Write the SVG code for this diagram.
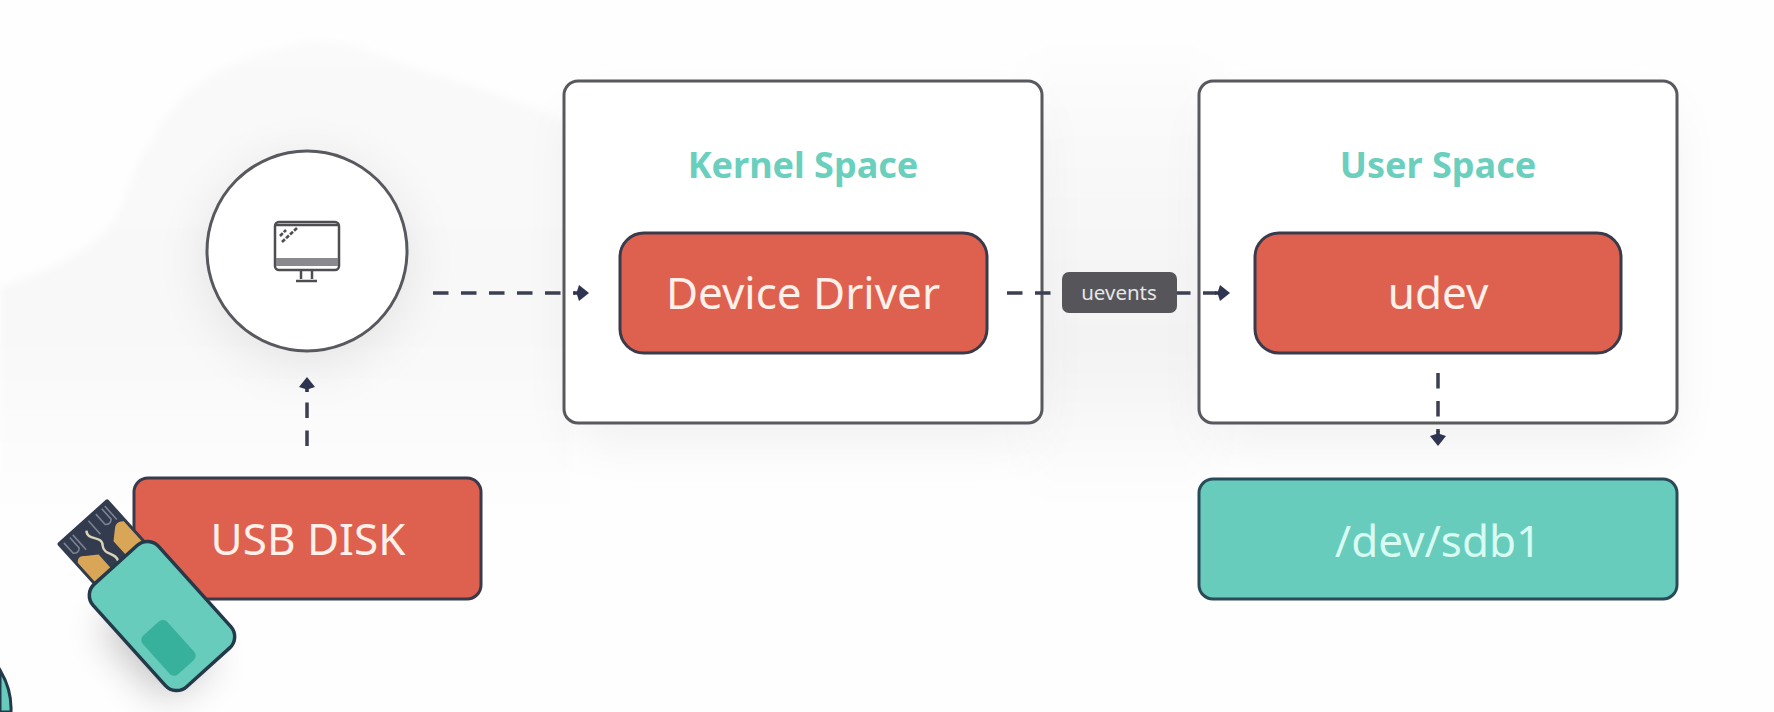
<svg xmlns="http://www.w3.org/2000/svg" width="1774" height="712" viewBox="0 0 1774 712">
<defs>
<style>
.panel{fill:#fff;stroke:#58595f;stroke-width:3}
.red{fill:#de6150;stroke:#3a3a4a;stroke-width:3}
.teal{fill:#67ccbc;stroke:#2a4a58;stroke-width:3}
.lbl{font-family:"Noto Sans","Liberation Sans",sans-serif;text-anchor:middle}
.big{font-size:44px}
.onred{fill:#fff0ea}
.title{font-size:36px;font-weight:700;fill:#6bcfbe}
.dash{fill:none;stroke:#3a3f52;stroke-width:3.5;stroke-dasharray:15.5 12.5}
.mon{fill:none;stroke:#4e4e52;stroke-width:2.5}
</style>
<marker id="head" markerUnits="userSpaceOnUse" markerWidth="20" markerHeight="20" refX="2" refY="10" orient="auto">
<path d="M1 8.2H4L6 2L16 10L6 18L4 11.8H1Z" fill="#2f3450"/>
</marker>
<linearGradient id="fade" gradientUnits="userSpaceOnUse" x1="0" y1="40" x2="0" y2="520">
<stop offset="0" stop-color="#000" stop-opacity=".017"/>
<stop offset=".6" stop-color="#000" stop-opacity=".024"/>
<stop offset="1" stop-color="#000" stop-opacity="0"/>
</linearGradient>
<linearGradient id="fadeX" gradientUnits="userSpaceOnUse" x1="0" y1="0" x2="0" y2="500">
<stop offset="0" stop-color="#000" stop-opacity="0"/>
<stop offset=".7" stop-color="#000" stop-opacity=".045"/>
<stop offset="1" stop-color="#000" stop-opacity="0"/>
</linearGradient>
<filter id="soft" x="-40%" y="-40%" width="180%" height="180%"><feGaussianBlur stdDeviation="28"/></filter>
<filter id="soft2" x="-60%" y="-60%" width="220%" height="220%"><feGaussianBlur stdDeviation="20"/></filter>
<filter id="blobblur" x="-10%" y="-10%" width="120%" height="120%"><feGaussianBlur stdDeviation="4"/></filter>
</defs>
<rect width="1774" height="712" fill="#fefefe"/>
<g id="background">
<path d="M0 287C50 270 95 250 115 220C130 190 135 160 153 140C175 95 215 60 306 42C350 38 385 58 421 70C470 85 520 100 570 125V520H0Z" fill="url(#fade)" filter="url(#blobblur)"/>
<rect x="1030" y="60" width="180" height="440" fill="url(#fadeX)" filter="url(#soft2)"/>
<rect x="575" y="110" width="460" height="330" fill="#000" opacity=".06" filter="url(#soft)"/>
<rect x="1210" y="110" width="460" height="330" fill="#000" opacity=".06" filter="url(#soft)"/>
<circle cx="307" cy="262" r="100" fill="#000" opacity=".09" filter="url(#soft)"/>
<path d="M100 630L165 700L215 660L150 585Z" fill="#000" opacity=".24" filter="url(#soft2)"/>
</g>
<g id="kernel-space">
<rect class="panel" x="564" y="81" width="478" height="342" rx="14"/>
<text class="lbl title" x="803" y="178">Kernel Space</text>
</g>
<g id="device-driver">
<rect class="red" x="620" y="233" width="367" height="120" rx="24"/>
<text class="lbl big onred" x="803" y="309">Device Driver</text>
</g>
<g id="user-space">
<rect class="panel" x="1199" y="81" width="478" height="342" rx="14"/>
<text class="lbl title" x="1438" y="178">User Space</text>
</g>
<g id="udev">
<rect class="red" x="1255" y="233" width="366" height="120" rx="24"/>
<text class="lbl big onred" x="1438" y="309">udev</text>
</g>
<g id="dev-sdb1">
<rect class="teal" x="1199" y="479" width="478" height="120" rx="14"/>
<text class="lbl big" x="1438" y="557" fill="#d8fbf2">/dev/sdb1</text>
</g>
<g id="computer">
<circle cx="307" cy="251" r="100" fill="#fff" stroke="#58595f" stroke-width="3"/>
<rect class="mon" x="275" y="222" width="64" height="48" rx="4"/>
<path d="M275 225H339" stroke="#4e4e52" stroke-width="2.5" fill="none"/>
<rect x="276" y="258" width="62" height="8" fill="#8a8a8e"/>
<path class="mon" d="M301 271V279M312 271V279"/>
<path class="mon" d="M296 281H317"/>
<path d="M282 242L297 228M280 236L286 230" fill="none" stroke="#4e4e52" stroke-width="2.6" stroke-dasharray="4 1.5"/>
</g>
<g id="usb-disk">
<rect class="red" x="134" y="478" width="347" height="121" rx="14"/>
<text class="lbl big onred" x="308" y="555">USB DISK</text>
</g>
<g id="usb-stick" transform="translate(162 616) rotate(-42)">
<rect x="-30" y="-124" width="68" height="60" rx="2" fill="#333b4e"/>
<path d="M-27 -68V-96Q-22 -102 -17 -96L-6 -88V-68ZM14 -68V-88L23 -96Q29 -102 35 -96V-68Z" fill="#d9a658"/>
<path d="M-24 -120V-106Q-20 -102 -16 -106V-120M-12 -120V-100M19 -120V-106Q23 -102 27 -106V-120M31 -120V-102M9 -120V-102" fill="none" stroke="#7b8290" stroke-width="1.6"/>
<path d="M1 -114C-6 -106 10 -100 3 -92C-3 -84 9 -78 4 -70" fill="none" stroke="#d9d3b8" stroke-width="2.4"/>
<rect x="-44" y="-69" width="88" height="138" rx="15" fill="#67ccbc" stroke="#243a4a" stroke-width="3.5"/>
<rect x="-33" y="2" width="33" height="52" rx="6" fill="#37b09c"/>
</g>
<g id="partial-circle">
<path d="M0 670Q12 690 11 712H0Z" fill="#67ccbc" stroke="#243a4a" stroke-width="3"/>
</g>
<g id="connectors">
<line class="dash" x1="433" y1="293" x2="575" y2="293" marker-end="url(#head)"/>
<line class="dash" x1="1007" y1="293" x2="1216" y2="293" marker-end="url(#head)"/>
<line class="dash" x1="307" y1="446" x2="307" y2="391" marker-end="url(#head)"/>
<line class="dash" x1="1438" y1="373" x2="1438" y2="432" marker-end="url(#head)"/>
</g>
<g id="uevents">
<rect x="1062" y="272" width="115" height="41" rx="7" fill="#56565a"/>
<text class="lbl" x="1119" y="300" font-size="20.5" fill="#e6e6e6">uevents</text>
</g>
</svg>
